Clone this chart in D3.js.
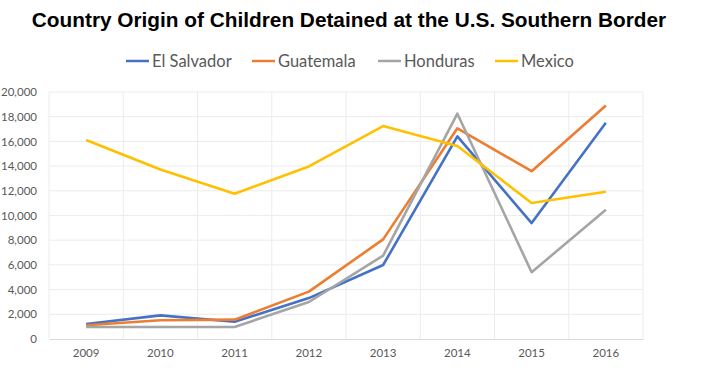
<!DOCTYPE html>
<html>
<head>
<meta charset="utf-8">
<script src="https://cdn.jsdelivr.net/npm/d3@7"></script>
<style>
  body { margin: 0; background: #fff; }
  text { font-family: Lato, "Open Sans", sans-serif; }
</style>
</head>
<body>
<svg id="chart"></svg>
<script>
var years = ["2009", "2010", "2011", "2012", "2013", "2014", "2015", "2016"];
var elSalvador = [1221, 1910, 1394, 3314, 5990, 16404, 9389, 17512];
var guatemala = [1115, 1517, 1565, 3835, 8068, 17057, 13589, 18913];
var honduras = [968, 968, 974, 2997, 6747, 18244, 5409, 10468];
var mexico = [16114, 13724, 11768, 13974, 17240, 15634, 11012, 11926];
var seriesNames = ["El Salvador", "Guatemala", "Honduras", "Mexico"];
var yTicks = [0, 2000, 4000, 6000, 8000, 10000, 12000, 14000, 16000, 18000, 20000];

var colors = ["#4472C4", "#ED7D31", "#A5A5A5", "#FFC000"];
var allSeries = [elSalvador, guatemala, honduras, mexico];

var w = 703, h = 370;
var svg = d3.select("#chart").attr("width", w).attr("height", h);

// plot area edges
var pLeft = 49, pRight = 643, pTop = 92, pBottom = 339;

var x = d3.scaleBand().domain(years).range([pLeft, pRight]);
var y = d3.scaleLinear().domain([0, 20000]).range([pBottom, pTop]);

// title
svg.append("text")
  .attr("x", 349)
  .attr("y", 27)
  .attr("text-anchor", "middle")
  .style("font-family", "Arial, 'Liberation Sans', sans-serif")
  .style("font-weight", "bold")
  .style("font-size", "20.8px")
  .attr("fill", "#000")
  .text("Country Origin of Children Detained at the U.S. Southern Border");

// legend
var legendX = [126, 252, 378, 495];
var legend = svg.append("g");
seriesNames.forEach(function(name, i) {
  legend.append("line")
    .attr("x1", legendX[i]).attr("x2", legendX[i] + 23)
    .attr("y1", 61).attr("y2", 61)
    .attr("stroke", colors[i]).attr("stroke-width", 2.5);
  legend.append("text")
    .attr("x", legendX[i] + 26)
    .attr("y", 67)
    .attr("fill", "#595959")
    .style("font-size", "16.5px")
    .text(name);
});

// gridlines
svg.append("g")
  .selectAll("line")
  .data(yTicks.slice(1))
  .join("line")
  .attr("x1", pLeft).attr("x2", pRight)
  .attr("y1", d => y(d)).attr("y2", d => y(d))
  .attr("stroke", "#ececec").attr("stroke-width", 1);

var vlines = years.map(d => x(d)).concat([pRight]);
svg.append("g")
  .selectAll("line")
  .data(vlines)
  .join("line")
  .attr("x1", d => d).attr("x2", d => d)
  .attr("y1", pTop).attr("y2", pBottom)
  .attr("stroke", "#ececec").attr("stroke-width", 1);

// axes
var yAxis = svg.append("g")
  .attr("transform", "translate(" + (pLeft - 9) + ",0)")
  .call(d3.axisLeft(y).tickValues(yTicks).tickSize(0).tickFormat(d3.format(",")));
yAxis.select(".domain").remove();
yAxis.selectAll("text")
  .attr("fill", "#595959")
  .style("font-family", "Lato, 'Open Sans', sans-serif")
  .style("font-size", "11.5px");

var xAxis = svg.append("g")
  .attr("transform", "translate(0," + pBottom + ")")
  .call(d3.axisBottom(x).tickSize(0).tickPadding(10));
xAxis.select(".domain").attr("stroke", "#d9d9d9");
xAxis.selectAll("text")
  .attr("fill", "#595959")
  .style("font-family", "Lato, 'Open Sans', sans-serif")
  .style("font-size", "11.5px");

// lines
var line = d3.line()
  .x((d, i) => x(years[i]) + x.bandwidth() / 2)
  .y(d => y(d));

svg.append("g")
  .selectAll("path")
  .data(allSeries)
  .join("path")
  .attr("d", d => line(d))
  .attr("fill", "none")
  .attr("stroke", (d, i) => colors[i])
  .attr("stroke-width", 2.6)
  .attr("stroke-linejoin", "round");
</script>
</body>
</html>
